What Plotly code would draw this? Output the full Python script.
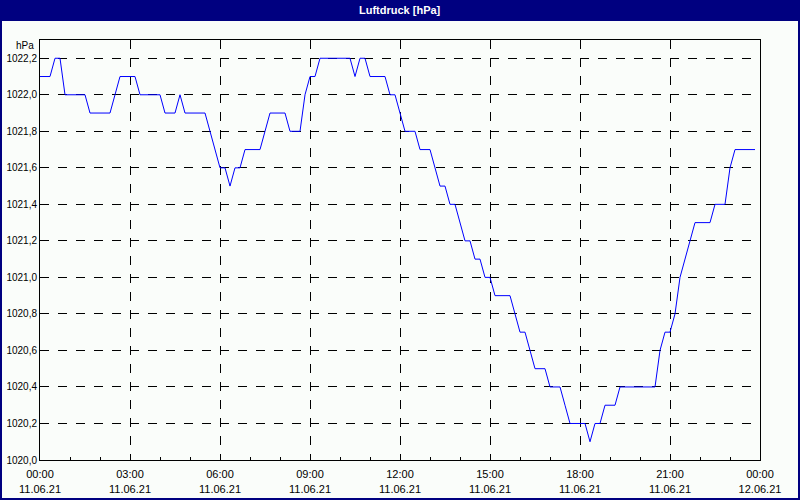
import pandas as pd
import plotly.graph_objects as go

# --- Colours ---
NAVY = "#000080"
BG = "#FAFDFA"
LINE_COL = "#0000FF"
FONT = "Liberation Sans"

# --- Data: air pressure (hPa), 10-minute readings on 11.06.21 ---
start_time = "2021-06-11 00:00"
end_time = "2021-06-12 00:00"
pressure = [
    1022.1, 1022.1, 1022.1, 1022.2, 1022.2, 1022.0, 1022.0, 1022.0, 1022.0, 1022.0,
    1021.9, 1021.9, 1021.9, 1021.9, 1021.9, 1022.0, 1022.1, 1022.1, 1022.1, 1022.1,
    1022.0, 1022.0, 1022.0, 1022.0, 1022.0, 1021.9, 1021.9, 1021.9, 1022.0, 1021.9,
    1021.9, 1021.9, 1021.9, 1021.9, 1021.8, 1021.7, 1021.6, 1021.6, 1021.5, 1021.6,
    1021.6, 1021.7, 1021.7, 1021.7, 1021.7, 1021.8, 1021.9, 1021.9, 1021.9, 1021.9,
    1021.8, 1021.8, 1021.8, 1022.0, 1022.1, 1022.1, 1022.2, 1022.2, 1022.2, 1022.2,
    1022.2, 1022.2, 1022.2, 1022.1, 1022.2, 1022.2, 1022.1, 1022.1, 1022.1, 1022.1,
    1022.0, 1022.0, 1021.9, 1021.8, 1021.8, 1021.8, 1021.7, 1021.7, 1021.7, 1021.6,
    1021.5, 1021.5, 1021.4, 1021.4, 1021.3, 1021.2, 1021.2, 1021.1, 1021.1, 1021.0,
    1021.0, 1020.9, 1020.9, 1020.9, 1020.9, 1020.8, 1020.7, 1020.7, 1020.6, 1020.5,
    1020.5, 1020.5, 1020.4, 1020.4, 1020.4, 1020.3, 1020.2, 1020.2, 1020.2, 1020.2,
    1020.1, 1020.2, 1020.2, 1020.3, 1020.3, 1020.3, 1020.4, 1020.4, 1020.4, 1020.4,
    1020.4, 1020.4, 1020.4, 1020.4, 1020.6, 1020.7, 1020.7, 1020.8, 1021.0, 1021.1,
    1021.2, 1021.3, 1021.3, 1021.3, 1021.3, 1021.4, 1021.4, 1021.4, 1021.6, 1021.7,
    1021.7, 1021.7, 1021.7, 1021.7,
]
times = pd.date_range(start_time, periods=len(pressure), freq="10min")

y_ticks = [1020.0, 1020.2, 1020.4, 1020.6, 1020.8, 1021.0, 1021.2,
           1021.4, 1021.6, 1021.8, 1022.0, 1022.2]

fig = go.Figure(
    go.Scatter(
        x=times, y=pressure,
        mode="lines",
        line=dict(color=LINE_COL, width=1),
        hovertemplate="%{x|%H:%M}<br>%{y:.1f} hPa<extra></extra>",
    )
)

# window-style frame + title bar
fig.add_shape(type="rect", xref="paper", yref="paper",
              x0=-40 / 720, x1=760 / 720, y0=1 + 20 / 420, y1=1 + 40 / 420,
              fillcolor=NAVY, line_width=0, layer="below")
fig.add_shape(type="rect", xref="paper", yref="paper",
              x0=-39 / 720, x1=759 / 720, y0=-39 / 420, y1=1 + 20 / 420,
              fillcolor="rgba(0,0,0,0)", line=dict(color=NAVY, width=2), layer="below")

fig.add_annotation(text="<b>Luftdruck [hPa]</b>", xref="paper", yref="paper",
                   x=0.5, y=1 + 30 / 420, showarrow=False,
                   font=dict(family=FONT, size=11, color="white"),
                   xanchor="center", yanchor="middle")
fig.add_annotation(text="hPa", xref="paper", yref="paper",
                   x=-4 / 720, y=1 - 6 / 420, showarrow=False,
                   font=dict(family=FONT, size=10, color="black"),
                   xanchor="right", yanchor="middle")

fig.update_layout(
    width=800, height=500,
    paper_bgcolor=BG,
    plot_bgcolor=BG,
    separators=",.",
    showlegend=False,
    margin=dict(l=40, r=40, t=40, b=40),
    font=dict(family=FONT, size=10, color="black"),
)
fig.update_xaxes(
    range=[start_time, end_time],
    dtick=3 * 3600 * 1000,
    tick0=start_time,
    tickformat="%H:%M<br>%d.%m.%y",
    tickfont=dict(size=11),
    ticklabelstandoff=4,
    showgrid=True, gridcolor="black", griddash="dash", gridwidth=1,
    showline=True, linecolor="black", linewidth=1, mirror=True,
    ticks="inside", ticklen=3, tickcolor="black",
    minor=dict(dtick=3600 * 1000, ticks="inside", ticklen=3, tickcolor="black"),
    zeroline=False, automargin=False,
)
fig.update_yaxes(
    range=[1020.0, 1022.3],
    tickvals=y_ticks,
    tickformat=".1f",
    showgrid=True, gridcolor="black", griddash="dash", gridwidth=1,
    showline=True, linecolor="black", linewidth=1, mirror=True,
    ticks="", zeroline=False, automargin=False,
)

# drop the page's default body margin so the 800x500 figure sits at the window origin
fig.write_html(
    "out.html",
    config={"displayModeBar": False},
    post_script="document.body.style.margin = '0';",
)
